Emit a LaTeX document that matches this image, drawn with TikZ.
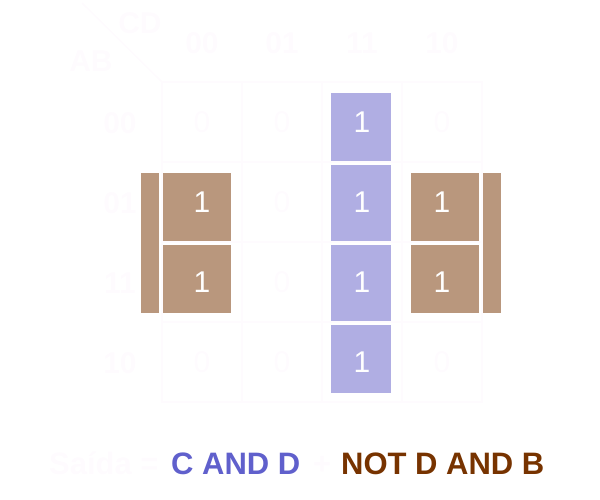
\documentclass[tikz,border=0pt]{standalone}
\usepackage{fontspec}
\setmainfont{Liberation Sans}
\usetikzlibrary{positioning}
\definecolor{faint}{RGB}{254,251,254}
\definecolor{lilac}{RGB}{176,174,227}
\definecolor{ndtan}{RGB}{185,151,125}
\definecolor{cdblue}{RGB}{96,96,204}
\definecolor{ndbrown}{RGB}{119,51,0}

\begin{document}
\begin{tikzpicture}[x=1pt, y=-1pt,
      cell/.style={rectangle, draw=faint, line width=1.5pt, inner sep=0pt, node distance=80pt, minimum size=80pt, text=faint, font=\fontsize{30}{30}\selectfont},
      one/.style={text=white},
      hdr/.style={text=faint, inner sep=0pt, font=\fontsize{30}{30}\selectfont\bfseries},
      lilacbox/.style={rectangle, fill=lilac, inner sep=0pt, minimum width=60pt},
      tanbox/.style={rectangle, fill=ndtan, inner sep=0pt, minimum size=68pt},
      tanbar/.style={rectangle, fill=ndtan, inner sep=0pt, minimum width=18pt, minimum height=140pt},
      sum/.style={anchor=base west, inner sep=0pt, font=\fontsize{31}{31}\selectfont\bfseries}]

\useasboundingbox (0,0) rectangle (600,500);

% groups
\node[lilacbox, minimum height=68pt] (cd1) at (361,127) {};
\node[lilacbox, minimum height=76pt] (cd2) at (361,203) {};
\node[lilacbox, minimum height=76pt] (cd3) at (361,283) {};
\node[lilacbox, minimum height=68pt] (cd4) at (361,359) {};
\node[tanbar] (ndl) at (150,243) {};
\node[tanbox] (nd1) at (197,207) {};
\node[tanbox] (nd2) at (197,279) {};
\node[tanbox] (nd3) at (445,207) {};
\node[tanbox] (nd4) at (445,279) {};
\node[tanbar] (ndr) at (492,243) {};

% map
\node[cell] (r1a) at (202,122) {0};
\node[cell,right of=r1a] (r1b) {0};
\node[cell,right of=r1b,one] (r1c) {1};
\node[cell,right of=r1c] (r1d) {0};
\node[cell,below of=r1a,one] (r2a) {1};
\node[cell,right of=r2a] (r2b) {0};
\node[cell,right of=r2b,one] (r2c) {1};
\node[cell,right of=r2c,one] (r2d) {1};
\node[cell,below of=r2a,one] (r3a) {1};
\node[cell,right of=r3a] (r3b) {0};
\node[cell,right of=r3b,one] (r3c) {1};
\node[cell,right of=r3c,one] (r3d) {1};
\node[cell,below of=r3a] (r4a) {0};
\node[cell,right of=r4a] (r4b) {0};
\node[cell,right of=r4b,one] (r4c) {1};
\node[cell,right of=r4c] (r4d) {0};

% labels
\node[hdr] (cd) at (140,23) {CD};
\node[hdr] (ab) at (91,61) {AB};
\coordinate (corner) at (82,3);
\draw[faint, line width=1.5pt] (corner) -- (r1a.north west);
\node[hdr] (c00) at (202,43) {00};
\node[hdr] (c01) at (282,43) {01};
\node[hdr] (c11) at (362,43) {11};
\node[hdr] (c10) at (442,43) {10};
\node[hdr] (a00) at (120,123) {00};
\node[hdr] (a01) at (120,203) {01};
\node[hdr] (a11) at (120,283) {11};
\node[hdr] (a10) at (120,363) {10};

% output
\node[sum, text=faint] (out) at (49,474) {Saída =};
\node[sum, text=cdblue] (term1) at (171,474) {C AND D};
\node[sum, text=faint] (plus) at (313,474) {+};
\node[sum, text=ndbrown] (term2) at (341,474) {NOT D AND B};

\end{tikzpicture}
\end{document}
